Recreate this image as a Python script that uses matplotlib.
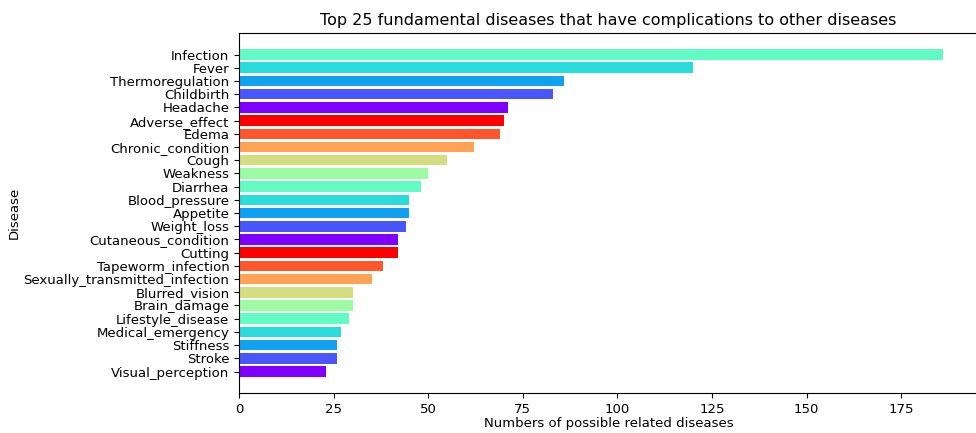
import matplotlib
matplotlib.use("Agg")
import matplotlib.pyplot as plt
import numpy as np

diseases = ["Infection", "Fever", "Thermoregulation", "Childbirth", "Headache",
            "Adverse_effect", "Edema", "Chronic_condition", "Cough", "Weakness",
            "Diarrhea", "Blood_pressure", "Appetite", "Weight_loss",
            "Cutaneous_condition", "Cutting", "Tapeworm_infection",
            "Sexually_transmitted_infection", "Blurred_vision", "Brain_damage",
            "Lifestyle_disease", "Medical_emergency", "Stiffness", "Stroke",
            "Visual_perception"]
counts = [186, 120, 86, 83, 71, 70, 69, 62, 55, 50, 48, 45, 45, 44, 42, 42,
          38, 35, 30, 30, 29, 27, 26, 26, 23]

# plot from bottom to top
names = diseases[::-1]
vals = counts[::-1]
palette = plt.cm.rainbow(np.linspace(0, 1, 10))
colors = [palette[i % 10] for i in range(len(vals))]

fig = plt.figure(figsize=(9.76, 4.33), dpi=100)
ax = fig.add_axes([0.245, 0.092, 0.757, 0.832])
ax.barh(names, vals, color=colors)
ax.set_title("Top 25 fundamental diseases that have complications to other diseases",
             fontsize=11.5, pad=6)
ax.set_xlabel("Numbers of possible related diseases", fontsize=9.5)
ax.set_ylabel("Disease", fontsize=9.5)
ax.yaxis.set_label_coords(-0.296, 0.5)
ax.xaxis.set_label_coords(0.5, -0.066)
ax.tick_params(axis="both", labelsize=9.5)
ax.set_xticks([0, 25, 50, 75, 100, 125, 150, 175])
ax.spines["right"].set_visible(False)
fig.savefig("out.png", dpi=100)
